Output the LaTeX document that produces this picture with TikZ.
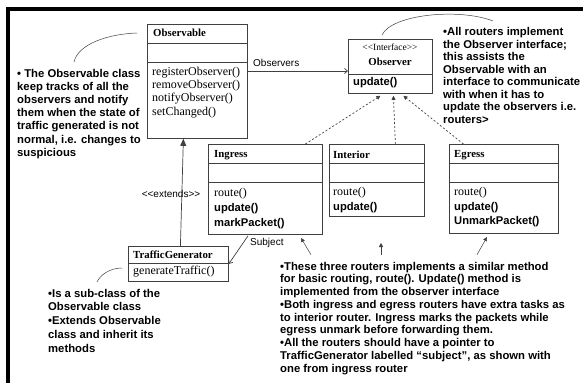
\documentclass[tikz,border=0pt]{standalone}
\usepackage{fontspec}
\setmainfont{Liberation Serif}
\setsansfont{Liberation Sans}
\usetikzlibrary{arrows.meta}
\begin{document}
\begin{tikzpicture}[x=1pt,y=-1pt,
  box/.style={draw=black!75, line width=0.8pt, fill=white, inner sep=0pt, anchor=north west},
  sep/.style={draw=black!75, line width=0.8pt},
  cname/.style={font=\fontsize{10.8}{12}\selectfont\bfseries, inner sep=0pt, anchor=west},
  meth/.style={font=\fontsize{12}{13}\selectfont, inner sep=0pt, anchor=west},
  smeth/.style={font=\sffamily\bfseries\fontsize{11.2}{13}\selectfont, inner sep=0pt, anchor=west},
  lbl/.style={font=\sffamily\fontsize{10}{12}\selectfont, inner sep=0pt},
  note/.style={font=\sffamily\bfseries\fontsize{11.3}{13.2}\selectfont, inner sep=0pt, anchor=north west, align=left},
  link/.style={draw=black!75, line width=0.7pt},
  openhead/.style={-{Straight Barb[length=3pt,width=5pt]}},
  solidhead/.style={-{Triangle[length=7pt,width=6pt]}},
  smallhead/.style={-{Triangle[length=4pt,width=4pt]}},
  dotted link/.style={link, dash pattern=on 2pt off 2pt}
]
\useasboundingbox (0,0) rectangle (583,383);

% frame bars along the top and left edges
\fill (6,7) rectangle (583,11);
\fill (6,7) rectangle (10,383);

% ---------- Observable ----------
\node[box, minimum width=100pt, minimum height=114pt] (obs) at (147,24) {};
\draw[sep] ([yshift=-19pt]obs.north west) -- ([yshift=-19pt]obs.north east);
\draw[sep] ([yshift=-38pt]obs.north west) -- ([yshift=-38pt]obs.north east);
\node[cname] (obsT) at (153,33) {Observable};
\node[meth] (obsM1) at (152,73) {registerObserver()};
\node[meth] (obsM2) at (152,86) {removeObserver()};
\node[meth] (obsM3) at (152,99) {notifyObserver()};
\node[meth] (obsM4) at (152,113) {setChanged()};

% ---------- Observer interface ----------
\node[box, minimum width=84pt, minimum height=54pt] (obsr) at (348,39) {};
\draw[sep] ([yshift=-35pt]obsr.north west) -- ([yshift=-35pt]obsr.north east);
\node[font=\fontsize{9.5}{11}\selectfont, inner sep=0pt] (obsrS) at (390,47) {<{}<Interface>{}>};
\node[font=\fontsize{10.8}{12}\selectfont\bfseries, inner sep=0pt] (obsrT) at (390,62) {Observer};
\node[smeth] (obsrM) at (353,83) {update()};

% ---------- Ingress ----------
\node[box, minimum width=114pt, minimum height=90pt] (ing) at (208,144) {};
\draw[sep] ([yshift=-19pt]ing.north west) -- ([yshift=-19pt]ing.north east);
\draw[sep] ([yshift=-38pt]ing.north west) -- ([yshift=-38pt]ing.north east);
\node[cname] (ingT) at (214,155) {Ingress};
\node[meth] (ingM1) at (214,194) {route()};
\node[smeth] (ingM2) at (214,209) {update()};
\node[smeth] (ingM3) at (214,224) {markPacket()};

% ---------- Interior ----------
\node[box, minimum width=95pt, minimum height=72pt] (int) at (329,144) {};
\draw[sep] ([yshift=-19pt]int.north west) -- ([yshift=-19pt]int.north east);
\draw[sep] ([yshift=-38pt]int.north west) -- ([yshift=-38pt]int.north east);
\node[cname] (intT) at (333,155) {Interior};
\node[meth] (intM1) at (333,193) {route()};
\node[smeth] (intM2) at (333,208) {update()};

% ---------- Egress ----------
\node[box, minimum width=109pt, minimum height=89pt] (egr) at (449,144) {};
\draw[sep] ([yshift=-19pt]egr.north west) -- ([yshift=-19pt]egr.north east);
\draw[sep] ([yshift=-38pt]egr.north west) -- ([yshift=-38pt]egr.north east);
\node[cname] (egrT) at (454,155) {Egress};
\node[meth] (egrM1) at (454,193) {route()};
\node[smeth] (egrM2) at (454,208) {update()};
\node[smeth] (egrM3) at (454,222) {UnmarkPacket()};

% ---------- TrafficGenerator ----------
\node[box, minimum width=100pt, minimum height=35pt] (tg) at (128,246) {};
\draw[sep] ([yshift=-17pt]tg.north west) -- ([yshift=-17pt]tg.north east);
\node[cname] (tgT) at (133,255) {TrafficGenerator};
\node[meth] (tgM) at (133,272) {generateTraffic()};

% ---------- relations ----------
\draw[link, openhead] ([yshift=-47pt]obs.north east) -- ([yshift=-32pt]obsr.north west);
\node[lbl, anchor=west] (lObs) at (253,63) {Observers};

\draw[link, solidhead] ([xshift=2pt]tg.north) -- ([xshift=-14pt]obs.south);
\node[lbl] (lExt) at (171,194) {<{}<extends>{}>};

\draw[dotted link, smallhead] ([xshift=40pt]ing.north) -- ([xshift=-10pt,yshift=-2pt]obsr.south);
\draw[dotted link, smallhead] ([xshift=18.5pt]int.north) -- ([xshift=3pt,yshift=-2pt]obsr.south);
\draw[dotted link, smallhead] ([xshift=-40.5pt]egr.north) -- ([xshift=13pt,yshift=-2pt]obsr.south);

\draw[link, openhead] ([xshift=40pt,yshift=-1pt]ing.south west) -- (tg.east);
\node[lbl, anchor=west] (lSub) at (250,243) {Subject};

% ---------- notes ----------
\node[note] (nObs) at (17,68.7) {• The Observable class\\keep tracks of all the\\observers and notify\\them when the state of\\traffic generated is not\\normal, i.e. changes to\\suspicious};
\draw[link, line width=0.5pt] (137,33) .. controls (108,34) and (78,44) .. (74,62);

\node[note, font=\sffamily\bfseries\fontsize{11.3}{12.5}\selectfont] (nObsr) at (443,27.4) {•All routers implement\\the Observer interface;\\this assists the\\Observable with an\\interface to communicate\\with when it has to\\update the observers i.e.\\routers>};
\draw[link, line width=0.5pt] (382,35) .. controls (392,14) and (460,8) .. (493,21);

\node[note, font=\sffamily\bfseries\fontsize{11.3}{13.75}\selectfont] (nTg) at (48,288.7) {•Is a sub-class of the\\Observable class\\•Extends Observable\\class and inherit its\\methods};
\draw[link, line width=0.5pt] (122,268) .. controls (110,268) and (100,275) .. (97,282);

\node[note, font=\sffamily\bfseries\fontsize{11.3}{12.75}\selectfont] (nR) at (280,261.7) {•These three routers implements a similar method\\for basic routing, route(). Update() method is\\implemented from the observer interface\\•Both ingress and egress routers have extra tasks as\\to interior router. Ingress marks the packets while\\egress unmark before forwarding them.\\•All the routers should have a pointer to\\TrafficGenerator labelled “subject”, as shown with\\one from ingress router};

\coordinate (tipIng) at (301,238);
\coordinate (tipInt) at (381,243);
\coordinate (tipEgr) at (487,237);
\draw[link, line width=0.5pt, smallhead] ([xshift=31pt,yshift=7pt]nR.north west) -- (tipIng);
\draw[link, line width=0.5pt, smallhead] ([xshift=101pt,yshift=7pt]nR.north west) -- (tipInt);
\draw[link, line width=0.5pt, smallhead] ([xshift=197pt,yshift=7pt]nR.north west) -- (tipEgr);
\end{tikzpicture}
\end{document}
